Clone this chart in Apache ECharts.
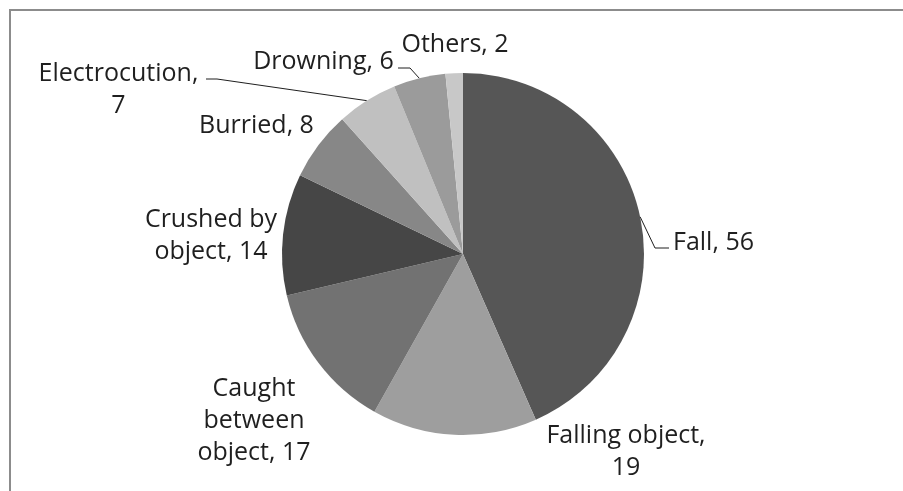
<!DOCTYPE html>
<html><head><meta charset="utf-8">
<script src="https://cdn.jsdelivr.net/npm/echarts@6/dist/echarts.min.js"></script>
<style>html,body{margin:0;padding:0;background:#fff}#c{width:903px;height:491px}</style>
</head><body><div id="c"></div>
<script>
// ---- data ----
const categories = ['Fall', 'Falling object', 'Caught between object', 'Crushed by object', 'Burried', 'Electrocution', 'Drowning', 'Others'];
const values = [56, 19, 17, 14, 8, 7, 6, 2];

// ---- style / layout ----
const colors = ['#565656', '#9e9e9e', '#727272', '#464646', '#878787', '#c0c0c0', '#9b9b9b', '#c8c8c8'];
const lineWords = [[2], [2, 1], [1, 1, 2], [2, 2], [2], [1, 1], [2], [2]];
const labelPos = [[673, 242.5, 'left'], [626, 452, 'center'], [254, 421, 'center'], [211, 236, 'center'],
  [256.5, 125.5, 'center'], [118.5, 89.5, 'center'], [323.5, 62, 'center'], [455, 44.5, 'center']];
const leaders = [[[655, 248], [669, 248]], null, null, null, null, [[217, 79], [206, 79]], [[410, 68], [398, 68]], null];

function labelText(i) {
  const words = (categories[i] + ', ' + values[i]).split(' ');
  const lines = []; let k = 0;
  lineWords[i].forEach(n => { lines.push(words.slice(k, k + n).join(' ')); k += n; });
  return lines.join('\n');
}

const chart = echarts.init(document.getElementById('c'), null, {renderer: 'canvas'});
chart.setOption({
  animation: false,
  backgroundColor: '#fff',
  graphic: [{
    type: 'rect', shape: {x: 10, y: 10, width: 1200, height: 1200},
    style: {fill: 'none', stroke: '#8c8c8c', lineWidth: 2}, silent: true, z: -1
  }],
  series: [{
    type: 'pie',
    center: [463, 254],
    radius: 181,
    startAngle: 90,
    clockwise: true,
    avoidLabelOverlap: false,
    itemStyle: {borderWidth: 0},
    label: {
      show: true, position: 'outside',
      fontFamily: 'Open Sans', fontSize: 25, lineHeight: 32, color: '#1f1f1f',
      formatter: p => labelText(p.dataIndex)
    },
    labelLine: {show: true, lineStyle: {color: '#1f1f1f', width: 1}},
    labelLayout: function (params) {
      const i = params.dataIndex;
      const p = labelPos[i];
      const out = {x: p[0], y: p[1], align: p[2], verticalAlign: 'middle'};
      if (leaders[i] && params.labelLinePoints) {
        out.labelLinePoints = [params.labelLinePoints[0]].concat(leaders[i]);
      }
      return out;
    },
    data: categories.map((c, i) => ({
      name: c, value: values[i],
      itemStyle: {color: colors[i]},
      labelLine: {show: !!leaders[i]}
    }))
  }]
});
</script></body></html>
